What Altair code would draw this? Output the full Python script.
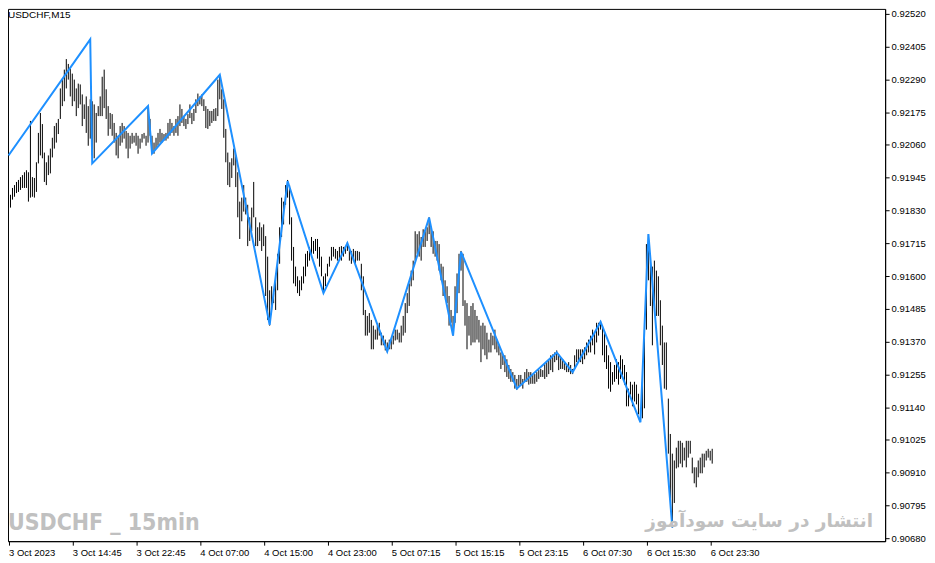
import json
import altair as alt
import pandas as pd

symbol_label = "USDCHF,M15"
watermark = "USDCHF _ 15min"
persian = "انتشار در سایت سودآموز"

# bar highs / lows in points (1e-5)
high_pts = [
    91875, 91885, 91909, 91919, 91930, 91937, 91947, 91954, 91964, 91971,
    91964, 92144, 91947, 91944, 91999, 92102, 92172, 92133, 92033, 91999,
    92023, 92047, 92085, 92126, 92137, 92151, 92258, 92289, 92324, 92361,
    92344, 92327, 92310, 92289, 92258, 92275, 92272, 92237, 92202, 92230,
    92196, 92220, 92213, 92202, 92172, 92196, 92230, 92299, 92324, 92255,
    92196, 92172, 92168, 92137, 92102, 92092, 92126, 92137, 92126, 92109,
    92102, 92092, 92102, 92092, 92102, 92092, 92082, 92098, 92102, 92092,
    92196, 92151, 92092, 92068, 92085, 92102, 92116, 92102, 92098, 92102,
    92137, 92151, 92137, 92126, 92151, 92161, 92202, 92186, 92161, 92151,
    92168, 92202, 92172, 92186, 92220, 92240, 92230, 92237, 92220, 92196,
    92186, 92179, 92179, 92186, 92189, 92289, 92299, 92255, 92220, 92116,
    92033, 91999, 92013, 92047, 92023, 91964, 91861, 91875, 91919, 91875,
    91850, 91806, 91840, 91930, 91806, 91771, 91788, 91771, 91781, 91740,
    91668, 91550, 91564, 91540, 91609, 91678, 91771, 91875, 91861, 91919,
    91937, 91919, 91806, 91702, 91633, 91599, 91585, 91599, 91633, 91678,
    91688, 91702, 91737, 91723, 91730, 91730, 91702, 91668, 91599, 91609,
    91643, 91668, 91702, 91702, 91695, 91688, 91702, 91705, 91702, 91705,
    91719, 91702, 91688, 91695, 91688, 91688, 91685, 91643, 91599, 91481,
    91460, 91470, 91446, 91426, 91412, 91426, 91436, 91401, 91391, 91377,
    91367, 91377, 91377, 91391, 91412, 91412, 91401, 91426, 91460, 91505,
    91540, 91574, 91619, 91654, 91757, 91747, 91757, 91737, 91764, 91757,
    91771, 91806, 91771, 91757, 91723, 91723, 91712, 91643, 91633, 91585,
    91564, 91530, 91481, 91460, 91564, 91609, 91678, 91688, 91678, 91515,
    91505, 91460, 91495, 91505, 91481, 91460, 91446, 91426, 91436, 91426,
    91401, 91377, 91401, 91391, 91412, 91377, 91357, 91332, 91322, 91322,
    91308, 91288, 91274, 91263, 91253, 91239, 91253, 91253, 91239, 91263,
    91274, 91263, 91263, 91253, 91256, 91263, 91270, 91274, 91270, 91291,
    91298, 91308, 91322, 91325, 91332, 91339, 91325, 91315, 91308, 91298,
    91288, 91298, 91288, 91274, 91322, 91343, 91343, 91343, 91343, 91350,
    91367, 91377, 91391, 91412, 91401, 91436, 91436, 91443, 91426, 91401,
    91357, 91322, 91298, 91263, 91288, 91308, 91298, 91322, 91308, 91288,
    91263, 91205, 91229, 91219, 91229, 91219, 91187, 91136, 91229, 91412,
    91712, 91747, 91678, 91633, 91654, 91619, 91599, 91515, 91426, 91367,
    91367, 91170, 91046, 90977, 90953, 90998, 91022, 91022, 91015, 90998,
    91022, 91022, 91022, 90963, 90929, 90929, 90953, 90963, 90977, 90977,
    90987, 90994, 90987, 90994,
]
low_pts = [
    91840, 91840, 91868, 91878, 91891, 91895, 91902, 91909, 91909, 91909,
    91861, 91875, 91878, 91875, 91895, 91995, 92023, 92013, 91930, 91919,
    91954, 91960, 92016, 92047, 92068, 92098, 92151, 92196, 92213, 92258,
    92289, 92230, 92196, 92213, 92161, 92189, 92202, 92126, 92151, 92102,
    92057, 92082, 92023, 92013, 92068, 92161, 92161, 92161, 92189, 92151,
    92092, 92116, 92092, 92068, 92023, 92013, 92057, 92068, 92082, 92047,
    92013, 92047, 92064, 92068, 92057, 92029, 92047, 92068, 92082, 92057,
    92068, 92092, 92029, 92029, 92047, 92057, 92068, 92068, 92075, 92075,
    92082, 92092, 92102, 92092, 92102, 92092, 92126, 92137, 92126, 92116,
    92133, 92154, 92133, 92144, 92172, 92196, 92202, 92196, 92179, 92119,
    92116, 92126, 92137, 92144, 92144, 92161, 92220, 92186, 92085, 91999,
    91919, 91912, 91944, 91988, 91912, 91806, 91730, 91792, 91826, 91816,
    91705, 91723, 91757, 91806, 91705, 91705, 91723, 91688, 91705, 91530,
    91446, 91426, 91481, 91505, 91481, 91550, 91643, 91737, 91781, 91850,
    91875, 91781, 91654, 91574, 91564, 91540, 91530, 91550, 91574, 91599,
    91633, 91654, 91668, 91678, 91688, 91661, 91633, 91599, 91540, 91564,
    91599, 91633, 91654, 91668, 91661, 91654, 91661, 91654, 91668, 91678,
    91688, 91654, 91643, 91654, 91643, 91654, 91654, 91550, 91463, 91391,
    91391, 91401, 91343, 91343, 91377, 91377, 91391, 91357, 91357, 91339,
    91332, 91343, 91343, 91360, 91374, 91377, 91367, 91367, 91391, 91401,
    91470, 91495, 91564, 91585, 91654, 91678, 91668, 91654, 91702, 91702,
    91723, 91747, 91702, 91678, 91668, 91654, 91619, 91585, 91530, 91530,
    91505, 91426, 91436, 91391, 91436, 91470, 91540, 91619, 91495, 91426,
    91343, 91391, 91357, 91367, 91367, 91377, 91367, 91298, 91343, 91322,
    91308, 91332, 91332, 91357, 91343, 91332, 91322, 91274, 91288, 91263,
    91246, 91239, 91229, 91229, 91205, 91201, 91212, 91219, 91205, 91229,
    91229, 91219, 91222, 91222, 91222, 91229, 91239, 91246, 91246, 91239,
    91246, 91256, 91270, 91263, 91298, 91305, 91270, 91274, 91274, 91270,
    91263, 91263, 91256, 91256, 91274, 91298, 91305, 91298, 91291, 91308,
    91322, 91332, 91332, 91357, 91325, 91367, 91391, 91412, 91322, 91298,
    91274, 91205, 91194, 91219, 91229, 91239, 91219, 91239, 91253, 91219,
    91143, 91143, 91184, 91143, 91160, 91150, 91115, 91091, 91101, 91136,
    91412, 91585, 91495, 91357, 91495, 91460, 91460, 91357, 91288, 91205,
    91201, 90977, 90814, 90718, 90804, 90925, 90929, 90942, 90929, 90953,
    90929, 90963, 90977, 90908, 90873, 90859, 90894, 90908, 90908, 90929,
    90953, 90963, 90953, 90942,
]

# zigzag turning points: bar index and price in points
zz_idx = [0, 41, 42, 70, 72, 106, 131, 140, 158, 170, 190, 211, 223, 227,
          255, 275, 283, 297, 317, 321, 333]
zz_pts = [92023, 92430, 91995, 92196, 92030, 92306, 91429, 91933, 91540,
          91716, 91336, 91805, 91391, 91685, 91205, 91332, 91263, 91439,
          91087, 91747, 90718]

x_tick_idx = [0, 32, 64, 96, 128, 160, 192, 224, 256, 288, 320, 352]
x_tick_labels = ["3 Oct 2023", "3 Oct 14:45", "3 Oct 22:45", "4 Oct 07:00",
                 "4 Oct 15:00", "4 Oct 23:00", "5 Oct 07:15", "5 Oct 15:15",
                 "5 Oct 23:15", "6 Oct 07:30", "6 Oct 15:30", "6 Oct 23:30"]
y_ticks = [0.90680, 0.90795, 0.90910, 0.91025, 0.91140, 0.91255, 0.91370,
           0.91485, 0.91600, 0.91715, 0.91830, 0.91945, 0.92060, 0.92175,
           0.92290, 0.92405, 0.92520]

bars = pd.DataFrame({
    "i": list(range(len(high_pts))),
    "high": [v / 1e5 for v in high_pts],
    "low": [v / 1e5 for v in low_pts],
})
zz = pd.DataFrame({"i": zz_idx, "p": [v / 1e5 for v in zz_pts]})

FONT = "Liberation Sans"
xscale = alt.Scale(domain=[-0.25, 439.75], nice=False, zero=False)
yscale = alt.Scale(domain=[0.90670, 0.92537], nice=False, zero=False)

label_expr = "{}[indexof({}, datum.value)]".format(
    json.dumps(x_tick_labels), json.dumps(x_tick_idx))

def make_xaxis():
    return alt.Axis(values=x_tick_idx, labelExpr=label_expr, grid=False, tickSize=4,
                    labelAlign="left", labelPadding=2, labelFont=FONT, labelFontSize=9.5,
                    labelColor="black", domainColor="black", tickColor="black",
                    title=None, labelOverlap=False, labelFlush=False)

def make_yaxis():
    return alt.Axis(orient="right", values=y_ticks, format=".5f", grid=False, tickSize=4,
                    labelPadding=2, labelFont=FONT, labelFontSize=9.5, labelColor="black",
                    domainColor="black", tickColor="black", title=None,
                    labelOverlap=False, labelFlush=False)

bar_layer = alt.Chart(bars).mark_rule(color="#000000", strokeWidth=1, clip=True).encode(
    x=alt.X("i:Q", scale=xscale, axis=make_xaxis()),
    y=alt.Y("low:Q", scale=yscale, axis=make_yaxis()),
    y2="high:Q",
)

zz_layer = alt.Chart(zz).mark_line(color="#1E90FF", strokeWidth=2, clip=True).encode(
    x=alt.X("i:Q", scale=xscale, axis=make_xaxis()),
    y=alt.Y("p:Q", scale=yscale, axis=make_yaxis()),
)

title_layer = alt.Chart(pd.DataFrame({"t": [symbol_label]})).mark_text(
    align="left", baseline="top", font=FONT, fontSize=10, color="black"
).encode(text="t:N", x=alt.value(0), y=alt.value(1))

wm_layer = alt.Chart(pd.DataFrame({"t": [watermark]})).mark_text(
    align="left", baseline="alphabetic", font="DejaVu Sans Condensed, DejaVu Sans, sans-serif",
    fontSize=23, fontWeight="bold", color="#c0c0c0"
).encode(text="t:N", x=alt.value(0), y=alt.value(523))

fa_layer = alt.Chart(pd.DataFrame({"t": [persian]})).mark_text(
    align="right", baseline="alphabetic", font="DejaVu Sans",
    fontSize=18.6, fontWeight="bold", color="#c0c0c0"
).encode(text="t:N", x=alt.value(868), y=alt.value(520))

chart = alt.layer(bar_layer, zz_layer, wm_layer, fa_layer, title_layer).properties(
    width=880, height=534,
    autosize=alt.AutoSizeParams(type="none"),
    padding={"left": 0, "top": 0, "right": 42, "bottom": 20},
    background="white",
).configure_view(stroke="black", strokeWidth=1).configure_axis(labelOverlap=False)

chart.save("out.html", embed_options={"renderer": "svg", "actions": False})
